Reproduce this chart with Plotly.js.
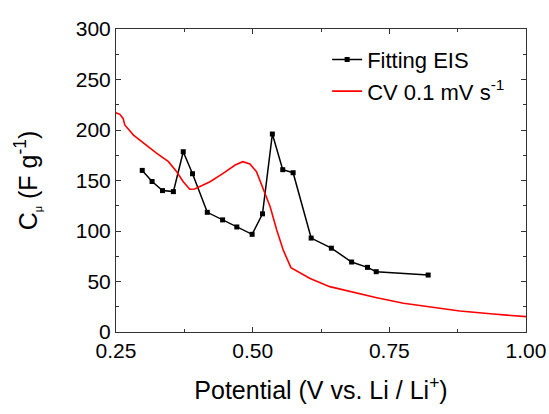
<!DOCTYPE html>
<html><head><meta charset="utf-8">
<script src="https://cdn.plot.ly/plotly-3.0.1.min.js"></script>
<style>body{margin:0;background:#fff}#c{width:549px;height:414px}</style>
</head><body><div id="c"></div>
<script>
var eisX = [0.298,0.316,0.335,0.355,0.373,0.390,0.417,0.445,0.471,0.499,0.518,0.536,0.555,0.574,0.607,0.644,0.681,0.710,0.726,0.821];
var eisY = [160,149,140,139,178.5,156.7,118.5,111,104,96.7,117,196,160.7,157.7,93,83,69.3,64,59.7,56.4];
var cvX = [0.250,0.257,0.263,0.266,0.282,0.300,0.324,0.346,0.361,0.373,0.385,0.394,0.422,0.446,0.468,0.482,0.495,0.507,0.519,0.532,0.544,0.556,0.570,0.605,0.641,0.678,0.727,0.776,0.818,0.879,0.940,1.000];
var cvY = [217,215.5,211.5,205,195,187,177,168.6,158.7,148.8,141.3,141.6,148.8,157,165.3,168.6,166.3,158.7,142.2,124,101,81,63.7,53,44.9,40,34,28.4,25,20.8,17.8,15.2];
var xTicks = [0.25,0.50,0.75,1.00];
var yTicks = [0,50,100,150,200,250,300];

var font = 'Arial, "Liberation Sans", sans-serif';
var traces = [
  {x: eisX, y: eisY, name: 'Fitting EIS', type: 'scatter', mode: 'lines+markers',
   line: {color: '#000', width: 1.5}, marker: {symbol: 'square', size: 5, color: '#000'}},
  {x: cvX, y: cvY, name: 'CV 0.1 mV s<sup>-1</sup>', type: 'scatter', mode: 'lines',
   line: {color: '#ff0000', width: 1.6}}
];
var axisCommon = {
  showgrid: false, zeroline: false, showline: true, linecolor: '#333', linewidth: 1,
  mirror: 'allticks', ticks: 'inside', ticklen: 5, tickcolor: '#333', tickwidth: 1,
  tickfont: {family: font, size: 21, color: '#000'}
};
var layout = {
  width: 549, height: 414,
  margin: {l: 116, r: 23, t: 29, b: 82},
  paper_bgcolor: '#fff', plot_bgcolor: '#fff',
  showlegend: true,
  legend: {x: 0.515, y: 0.968, xanchor: 'left', yanchor: 'top', bgcolor: 'rgba(0,0,0,0)',
           font: {family: font, size: 22, color: '#000'}, tracegroupgap: 0},
  xaxis: Object.assign({}, axisCommon, {
    range: [0.25, 1.0], tickvals: xTicks, ticktext: xTicks.map(function(v){return v.toFixed(2);}),
    minor: {ticks: 'inside', ticklen: 3, tickcolor: '#333', dtick: 0.125, tick0: 0.25},
    title: {text: 'Potential (V vs. Li / Li<sup>+</sup>)', font: {family: font, size: 25, color: '#000'}, standoff: 20}
  }),
  yaxis: Object.assign({}, axisCommon, {
    range: [0, 300], tickvals: yTicks,
    minor: {ticks: 'inside', ticklen: 3, tickcolor: '#333', dtick: 25, tick0: 0},
    title: {text: 'C<sub><span style="font-size:11px">μ</span></sub> (F g<sup>-1</sup>)', font: {family: font, size: 25, color: '#000'}, standoff: 31}
  })
};
Plotly.newPlot('c', traces, layout, {displayModeBar: false, staticPlot: true});
</script></body></html>
